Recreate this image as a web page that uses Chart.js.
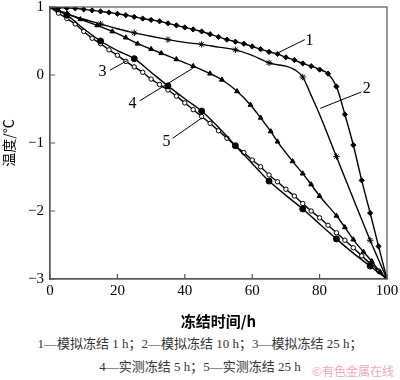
<!DOCTYPE html>
<html>
<head>
<meta charset="utf-8">
<script src="https://cdn.jsdelivr.net/npm/chart.js@4.4.0/dist/chart.umd.min.js"></script>
<style>
body { margin: 0; background: #fff; }
#wrap { position: relative; width: 400px; height: 380px; overflow: hidden; }
#c { position: absolute; left: 0; top: 0; }
.cap { position: absolute; left: 0; width: 400px; text-align: center; font-family: "Liberation Serif", "Noto Sans CJK SC"; font-size: 13px; color: #333; white-space: nowrap; }
#wm { position: absolute; right: 6px; top: 362px; font-family: "Noto Sans CJK SC"; font-size: 12px; color: #f2a6b4; }
</style>
</head>
<body>
<div id="wrap">
  <canvas id="c" width="400" height="330"></canvas>
  <div class="cap" style="top:333px">1—模拟冻结 1 h；2—模拟冻结 10 h；3—模拟冻结 25 h；</div>
  <div class="cap" style="top:356px">4—实测冻结 5 h；5—实测冻结 25 h</div>
  <div id="wm">©有色金属在线</div>
</div>
<script>
// curve 1 - 模拟冻结 1 h (diamonds)
var x1 = [0,2.5,5,7.5,10,12.5,15,17.5,20,22.5,25,27.5,30,32.5,35,37.5,40,42.5,45,47.5,50,52.5,55,57.5,60,62.5,65,67.5,70,72.5,75,77.5,80,82.5,85,87.5,90,92.5,95,97.5,100];
var y1 = [1,0.99,0.985,0.98,0.965,0.95,0.935,0.92,0.9,0.88,0.855,0.83,0.81,0.79,0.76,0.73,0.7,0.67,0.64,0.6,0.56,0.52,0.49,0.46,0.42,0.38,0.34,0.31,0.26,0.22,0.17,0.13,0.08,0.02,-0.17,-0.58,-1.03,-1.55,-2.03,-2.52,-3];

// curve 2 - 模拟冻结 10 h (stars)
var x2 = [0,5,10,15,20,25,30,35,40,45,50,55,60,65,67.5,70,72.5,75,77.5,80,85,90,95,100];
var y2 = [1,0.9,0.82,0.75,0.68,0.62,0.57,0.52,0.48,0.45,0.41,0.37,0.29,0.18,0.15,0.13,0.08,-0.03,-0.3,-0.58,-1.2,-1.82,-2.43,-3];

// curve 3 - 模拟冻结 25 h (filled circles)
var x3 = [0,5,10,15,20,25,30,35,40,45,50,55,60,65,70,75,80,85,90,95,100];
var y3 = [1,0.88,0.68,0.5,0.36,0.24,0.04,-0.16,-0.35,-0.53,-0.77,-1.04,-1.3,-1.56,-1.77,-1.97,-2.19,-2.41,-2.62,-2.81,-3];

// curve 4 - 实测冻结 5 h (triangles)
var x4 = [0,2.5,5,9,14,18.5,22.5,26,30,33,37.5,42.5,47.5,51,55.5,59.5,62.5,65.5,67.5,72,75,77.5,80,85,87.5,90,93,95.5,98,100];
var y4 = [1,0.95,0.9,0.82,0.73,0.64,0.55,0.46,0.38,0.32,0.23,0.13,0.02,-0.07,-0.24,-0.44,-0.63,-0.83,-0.98,-1.27,-1.45,-1.61,-1.78,-2.07,-2.24,-2.42,-2.6,-2.74,-2.9,-3];

// curve 5 - 实测冻结 25 h (open circles)
var x5 = [0,2.5,5,7.5,10,12.5,15,17.5,20,22.5,25,27.5,30,32.5,35,37.5,40,42.5,45,47.5,50,52.5,55,57.5,60,62.5,65,67.5,70,72.5,75,77.5,80,82.5,85,87.5,90,92.5,95,97.5,100];
var y5 = [1,0.91,0.83,0.75,0.64,0.54,0.46,0.37,0.29,0.2,0.12,0.04,-0.06,-0.14,-0.22,-0.31,-0.41,-0.51,-0.61,-0.71,-0.82,-0.93,-1.04,-1.14,-1.25,-1.35,-1.47,-1.57,-1.68,-1.78,-1.89,-2,-2.1,-2.21,-2.32,-2.43,-2.54,-2.66,-2.77,-2.88,-3];

var xTicks = [0,20,40,60,80,100];
var yTicks = [1,0,-1,-2,-3];

// numbered callouts: text pos, leader from -> to (data units)
var calloutText = ["1","2","3","4","5"];
var calloutPos = [[77,0.51],[94,-0.21],[15.6,0.05],[24.5,-0.42],[34.6,-0.98]];
var calloutLine = [[[67.4,0.32],[75.6,0.52]],[[80.2,-0.49],[92.4,-0.25]],[[17.8,0.07],[22.8,0.21]],[[26.6,-0.38],[42.4,0.1]],[[36.4,-0.93],[45.1,-0.63]]];

function pts(xs, ys) {
  return xs.map((x, i) => ({ x: x, y: ys[i] }));
}

var serif = "'Liberation Serif', 'Times New Roman', serif";

const boxTicks = {
  id: "boxTicks",
  afterDraw(chart) {
    const c = chart.ctx, a = chart.chartArea;
    const sx = chart.scales.x, sy = chart.scales.y;
    c.save();
    c.strokeStyle = "#555";
    c.lineWidth = 1.2;
    c.strokeRect(a.left, a.top, a.right - a.left, a.bottom - a.top);
    c.beginPath();
    xTicks.forEach((t) => {
      let p = sx.getPixelForValue(t);
      c.moveTo(p, a.bottom);
      c.lineTo(p, a.bottom - 5);
    });
    yTicks.forEach((t) => {
      let p = sy.getPixelForValue(t);
      c.moveTo(a.left, p);
      c.lineTo(a.left + 5, p);
    });
    c.stroke();
    // callouts
    c.strokeStyle = "#000";
    c.lineWidth = 1;
    c.fillStyle = "#000";
    c.font = "16px " + serif;
    c.textAlign = "center";
    c.textBaseline = "middle";
    calloutText.forEach((t, i) => {
      let l = calloutLine[i];
      c.beginPath();
      c.moveTo(sx.getPixelForValue(l[0][0]), sy.getPixelForValue(l[0][1]));
      c.lineTo(sx.getPixelForValue(l[1][0]), sy.getPixelForValue(l[1][1]));
      c.stroke();
      c.fillText(t, sx.getPixelForValue(calloutPos[i][0]), sy.getPixelForValue(calloutPos[i][1]));
    });
    c.restore();
  },
};

function every10(r) {
  return (ctx) => (ctx.raw && ctx.raw.x % 10 === 5 ? r : 0);
}

const base = { borderColor: "#000", borderWidth: 1.4, showLine: true, cubicInterpolationMode: "monotone", pointBorderColor: "#000" };

new Chart(document.getElementById("c"), {
  type: "scatter",
  data: {
    datasets: [
      Object.assign({}, base, { label: "1", data: pts(x1, y1), pointStyle: "rectRot", pointRadius: 2.6, pointBackgroundColor: "#000", pointBorderWidth: 1 }),
      Object.assign({}, base, { label: "2", data: pts(x2, y2), pointStyle: "star", pointRadius: every10(3.2), pointBackgroundColor: "#000", pointBorderWidth: 1 }),
      Object.assign({}, base, { label: "3", data: pts(x3, y3), pointStyle: "circle", pointRadius: every10(3), pointBackgroundColor: "#000", pointBorderWidth: 1 }),
      Object.assign({}, base, { label: "4", data: pts(x4, y4), pointStyle: "triangle", pointRadius: 2.8, pointBackgroundColor: "#000", pointBorderWidth: 1 }),
      Object.assign({}, base, { label: "5", data: pts(x5, y5), pointStyle: "circle", pointRadius: 2.2, pointBackgroundColor: "#fff", pointBorderWidth: 1 }),
    ],
  },
  options: {
    responsive: false,
    animation: false,
    layout: { padding: { left: 0, right: 13, top: 0, bottom: 0 } },
    plugins: { legend: { display: false }, tooltip: { enabled: false } },
    scales: {
      x: {
        type: "linear",
        min: 0,
        max: 100,
        afterBuildTicks: (s) => { s.ticks = xTicks.map((v) => ({ value: v })); },
        afterFit: (s) => { s.height = 51; s.paddingLeft = 0; s.paddingRight = 0; },
        grid: { drawOnChartArea: false, drawTicks: false },
        border: { color: "#555", width: 1.2 },
        ticks: { color: "#000", padding: 3, font: { family: serif, size: 15 } },
        title: { display: true, text: "冻结时间/h", color: "#000", padding: { top: 0, bottom: 0 }, font: { family: "'Noto Sans CJK SC'", size: 15, weight: "bold" } },
      },
      y: {
        min: -3,
        max: 1,
        afterBuildTicks: (s) => { s.ticks = yTicks.map((v) => ({ value: v })); },
        afterFit: (s) => { s.width = 50; s.paddingTop = 7; s.paddingBottom = 0; },
        grid: { drawOnChartArea: false, drawTicks: false },
        border: { color: "#555", width: 1.2 },
        ticks: { color: "#000", padding: 6, font: { family: serif, size: 15 }, callback: (v) => String(v).replace("-", "−") },
        title: { display: true, text: "温度/°C", color: "#000", padding: 0, font: { family: "'Noto Sans CJK SC'", size: 14 } },
      },
    },
  },
  plugins: [boxTicks],
});
</script>
</body>
</html>
